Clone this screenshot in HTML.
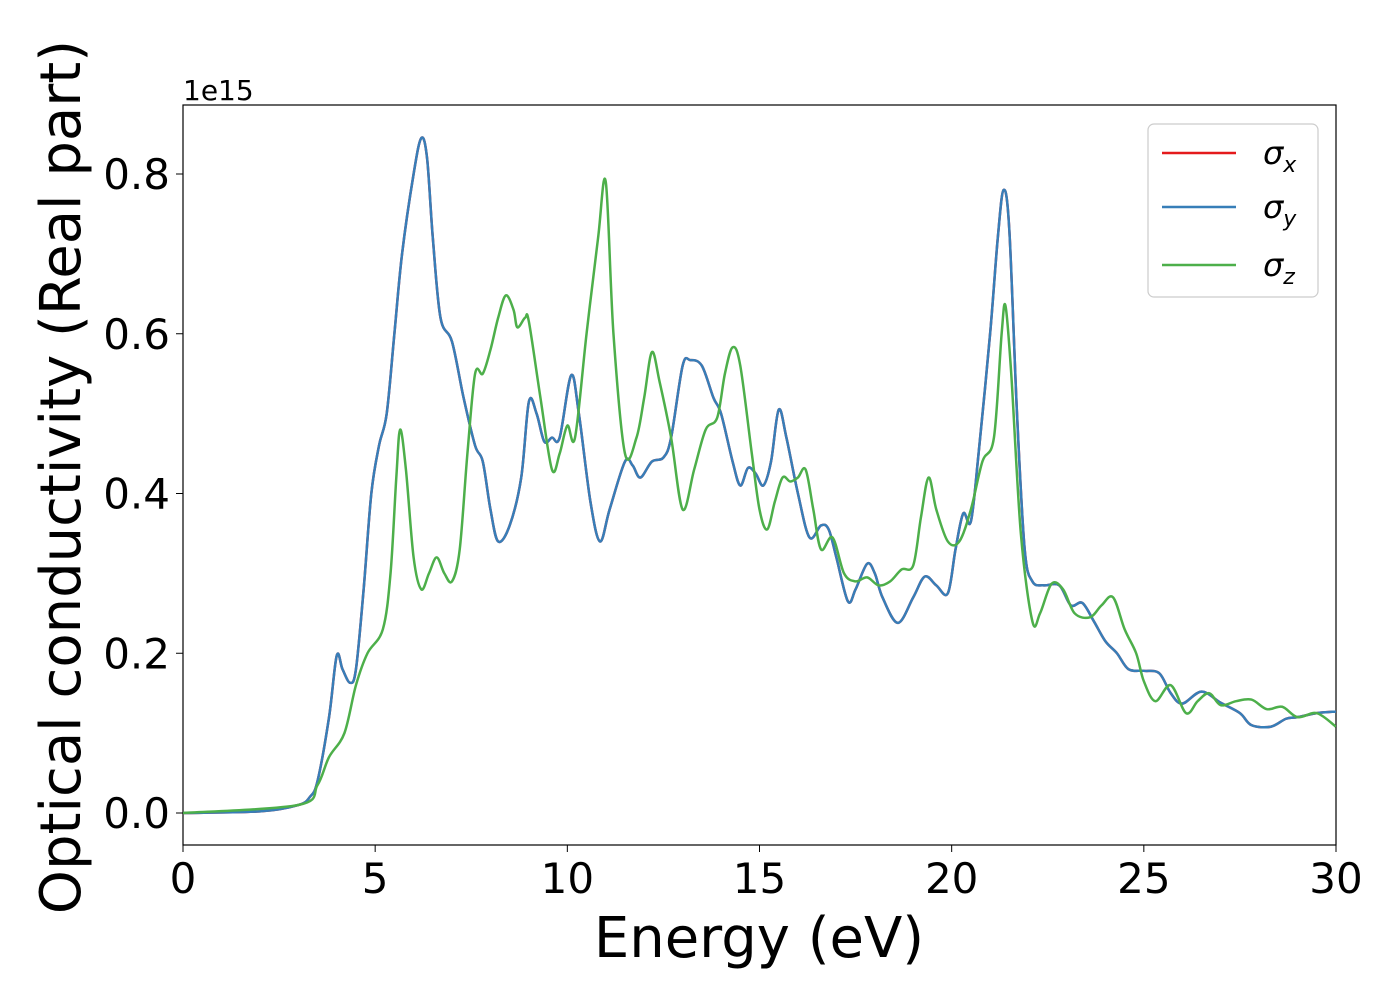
<!DOCTYPE html>
<html><head><meta charset="utf-8"><style>
body{margin:0;background:#fff;}
svg text{font-family:"DejaVu Sans","Liberation Sans",sans-serif;fill:#000;}
</style></head><body>
<svg id="chart" width="1400" height="1000">
<rect x="183" y="105" width="1153" height="740" fill="#fff" stroke="#000" stroke-width="1.2"/>
<g id="ticks"></g>
<g id="series"></g>
<text x="183" y="100" font-size="28">1e15</text>
<text x="759" y="957" font-size="56" text-anchor="middle">Energy (eV)</text>
<text transform="translate(80,477) rotate(-90)" font-size="56" text-anchor="middle">Optical conductivity (Real part)</text>
<g>
<rect x="1148" y="124" width="170" height="173" rx="6" fill="#fff" stroke="#ccc" stroke-width="1.2"/>
<line x1="1162" y1="153" x2="1236" y2="153" stroke="#e41a1c" stroke-width="2.5"/>
<text x="1263" y="164" font-size="32" font-style="italic">σ<tspan font-size="22" dy="8">x</tspan></text>
<line x1="1162" y1="207" x2="1236" y2="207" stroke="#377eb8" stroke-width="2.5"/>
<text x="1263" y="218" font-size="32" font-style="italic">σ<tspan font-size="22" dy="8">y</tspan></text>
<line x1="1162" y1="265" x2="1236" y2="265" stroke="#4daf4a" stroke-width="2.5"/>
<text x="1263" y="276" font-size="32" font-style="italic">σ<tspan font-size="22" dy="8">z</tspan></text>
</g>
</svg>
<script>
const xTicks=[0,5,10,15,20,25,30];
const yTicks=[0,0.2,0.4,0.6,0.8];
const yTickLabels=["0.0","0.2","0.4","0.6","0.8"];
const energyXY=[0,2,3,3.3,3.5,3.8,4.0,4.15,4.35,4.5,4.7,4.9,5.1,5.3,5.5,5.7,6.0,6.2,6.35,6.5,6.7,7.0,7.3,7.6,7.8,8.0,8.2,8.5,8.8,9.0,9.2,9.4,9.6,9.8,10.1,10.3,10.6,10.85,11.1,11.5,11.7,11.9,12.2,12.5,12.7,13.0,13.2,13.5,13.8,14.0,14.3,14.5,14.7,14.9,15.1,15.3,15.5,15.7,16.0,16.3,16.6,16.8,17.0,17.3,17.5,17.8,18.0,18.2,18.6,19.0,19.3,19.6,19.9,20.1,20.3,20.5,20.7,21.0,21.2,21.35,21.5,21.7,21.9,22.1,22.4,22.8,23.1,23.4,23.7,24.0,24.3,24.6,25.0,25.4,25.7,26.0,26.5,27.0,27.5,27.8,28.3,28.7,29.0,29.5,30];
const sigmaX=[0,0.002,0.01,0.02,0.04,0.12,0.197,0.18,0.163,0.18,0.28,0.4,0.46,0.5,0.6,0.7,0.8,0.845,0.82,0.72,0.62,0.59,0.52,0.46,0.44,0.38,0.34,0.36,0.42,0.515,0.5,0.465,0.47,0.47,0.548,0.5,0.39,0.34,0.38,0.44,0.435,0.42,0.44,0.445,0.47,0.56,0.567,0.56,0.52,0.5,0.44,0.41,0.432,0.425,0.41,0.44,0.505,0.47,0.4,0.345,0.36,0.355,0.32,0.265,0.28,0.312,0.3,0.27,0.238,0.27,0.296,0.285,0.275,0.33,0.375,0.365,0.45,0.6,0.72,0.78,0.73,0.5,0.33,0.29,0.285,0.285,0.26,0.263,0.24,0.215,0.2,0.18,0.178,0.175,0.15,0.137,0.152,0.138,0.125,0.11,0.108,0.118,0.12,0.125,0.127];
const sigmaY=sigmaX.slice();
const energyZ=[0,3,3.5,3.8,4.2,4.5,4.8,5.2,5.4,5.55,5.65,5.8,6.0,6.2,6.4,6.6,6.8,7.0,7.2,7.4,7.6,7.8,8.0,8.2,8.4,8.6,8.7,8.9,9.0,9.3,9.6,9.8,10.0,10.2,10.5,10.8,11.0,11.2,11.5,11.8,12.0,12.2,12.4,12.7,13.0,13.3,13.6,13.9,14.1,14.3,14.5,14.8,15.0,15.2,15.4,15.6,15.8,16.0,16.2,16.4,16.6,16.9,17.2,17.5,17.8,18.1,18.4,18.7,19.0,19.2,19.4,19.6,19.9,20.2,20.5,20.8,21.1,21.3,21.4,21.55,21.8,22.1,22.3,22.6,22.9,23.2,23.6,23.9,24.2,24.5,24.8,25.0,25.3,25.7,26.1,26.4,26.7,27.0,27.4,27.8,28.2,28.6,29.0,29.5,30];
const sigmaZ=[0,0.01,0.035,0.07,0.1,0.16,0.2,0.23,0.3,0.42,0.48,0.43,0.32,0.28,0.3,0.32,0.3,0.29,0.33,0.45,0.55,0.55,0.58,0.62,0.648,0.63,0.608,0.62,0.615,0.52,0.43,0.45,0.485,0.47,0.6,0.72,0.79,0.6,0.45,0.47,0.52,0.577,0.54,0.47,0.38,0.43,0.48,0.495,0.55,0.583,0.56,0.45,0.38,0.355,0.39,0.42,0.415,0.42,0.43,0.38,0.33,0.345,0.3,0.29,0.295,0.285,0.29,0.305,0.31,0.37,0.42,0.38,0.34,0.34,0.38,0.44,0.47,0.6,0.635,0.55,0.35,0.24,0.25,0.287,0.28,0.25,0.245,0.26,0.27,0.23,0.2,0.165,0.14,0.16,0.125,0.14,0.15,0.135,0.14,0.142,0.13,0.133,0.12,0.125,0.108];

const X0=183,X1=1336,Y0=813,Y1=174;
const sx=v=>X0+(v-0)/(30-0)*(X1-X0);
const sy=v=>Y0+(v-0)/(0.8-0)*(Y1-Y0);
const NS="http://www.w3.org/2000/svg";
const tg=document.getElementById('ticks');
xTicks.forEach(t=>{
  const l=document.createElementNS(NS,'line');
  l.setAttribute('x1',sx(t));l.setAttribute('x2',sx(t));l.setAttribute('y1',845);l.setAttribute('y2',852);l.setAttribute('stroke','#000');
  
  
  tg.appendChild(l);
  const tx=document.createElementNS(NS,'text');
  tx.setAttribute('x',sx(t));tx.setAttribute('y',893);tx.setAttribute('font-size','42');tx.setAttribute('text-anchor','middle');
  tx.textContent=t;
  
  
  tg.appendChild(tx);
});
yTicks.forEach((t,i)=>{
  const l=document.createElementNS(NS,'line');
  l.setAttribute('x1',176);l.setAttribute('x2',183);l.setAttribute('y1',sy(t));l.setAttribute('y2',sy(t));l.setAttribute('stroke','#000');
  
  
  tg.appendChild(l);
  const tx=document.createElementNS(NS,'text');
  tx.setAttribute('x',170);tx.setAttribute('y',sy(t)+15);tx.setAttribute('font-size','42');tx.setAttribute('text-anchor','end');
  tx.textContent=yTickLabels[i];
  
  
  tg.appendChild(tx);
});
function pathFor(xs,ys){
  const p=xs.map((x,i)=>[sx(x),sy(ys[i])]);
  let d='M'+p[0][0]+','+p[0][1];
  for(let i=0;i<p.length-1;i++){
    const a=p[Math.max(i-1,0)],b=p[i],c=p[i+1],e=p[Math.min(i+2,p.length-1)];
    const c1=[b[0]+(c[0]-a[0])/6,b[1]+(c[1]-a[1])/6];
    const c2=[c[0]-(e[0]-b[0])/6,c[1]-(e[1]-b[1])/6];
    d+=' C'+c1[0]+','+c1[1]+' '+c2[0]+','+c2[1]+' '+c[0]+','+c[1];
  }
  return d;
}
const sg=document.getElementById('series');
[[energyXY,sigmaX,'#e41a1c','series-sigma-x'],[energyXY,sigmaY,'#377eb8','series-sigma-y'],[energyZ,sigmaZ,'#4daf4a','series-sigma-z']].forEach(s=>{
  const p=document.createElementNS(NS,'path');
  p.setAttribute('d',pathFor(s[0],s[1]));
  p.setAttribute('fill','none');p.setAttribute('stroke',s[2]);p.setAttribute('stroke-width','2.5');
  p.setAttribute('clip-path','url(#clip)');
  
  
  sg.appendChild(p);
});
const defs=document.createElementNS(NS,'defs');
defs.innerHTML='<clipPath id="clip"><rect x="183" y="105" width="1153" height="740"/></clipPath>';
document.getElementById('chart').prepend(defs);
</script>
</body></html>
